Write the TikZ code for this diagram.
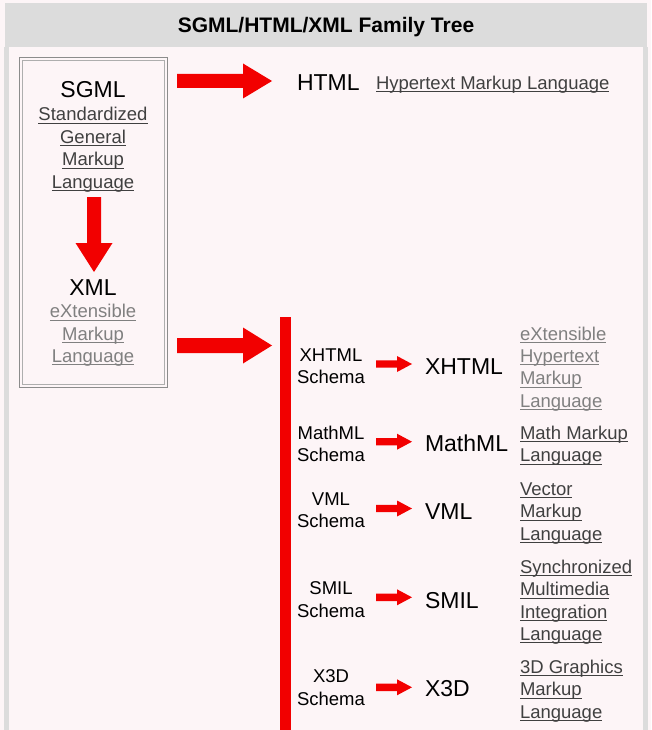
\documentclass[tikz,border=0pt]{standalone}
\usepackage{fontspec}
\setmainfont{Liberation Sans}
\usetikzlibrary{calc}
\definecolor{bg}{HTML}{FDF5F7}
\definecolor{bar}{HTML}{DCDCDC}
\definecolor{lnkd}{HTML}{404040}
\definecolor{lnkv}{HTML}{808080}
\definecolor{rd}{HTML}{F20000}
\definecolor{frm}{HTML}{8C8C8C}
\newcommand\lnk[1]{\setbox0=\hbox{#1}\rlap{\rule[-2.7pt]{\wd0}{0.9pt}}\box0}
\newcommand\st{\rule[-5pt]{0pt}{14pt}}
% horizontal block arrow: start, end, shaft half, head half, head length
\newcommand\harrow[5]{\fill[rd] ($(#1)+(0,-#3)$) -- ($(#2)+(-#5,-#3)$) -- ($(#2)+(-#5,-#4)$) -- (#2) -- ($(#2)+(-#5,#4)$) -- ($(#2)+(-#5,#3)$) -- ($(#1)+(0,#3)$) -- cycle;}
\begin{document}
\begin{tikzpicture}[x=1pt,y=-1pt,
  every node/.style={inner sep=0pt,outer sep=0pt},
  bigtxt/.style={font=\fontsize{23}{27}\selectfont},
  txt/.style={font=\fontsize{18.5}{22.4}\selectfont},
  defn/.style={txt,align=left,anchor=north west,text=lnkd},
  vdefn/.style={defn,text=lnkv},
  schema/.style={txt,align=center,anchor=north},
  langname/.style={bigtxt,anchor=base west}]
\useasboundingbox (0,0) rectangle (651,730);
\fill[bg] (0,0) rectangle (651,730);
\fill[bar] (5,3) rectangle (647,47);
\fill[bar] (4,47) rectangle (9,730);
\fill[bar] (643,47) rectangle (648,730);
\node[font=\fontsize{21}{25}\selectfont\bfseries,anchor=base] (title) at (326,33) {SGML/HTML/XML Family Tree};
% SGML box
\draw[frm,line width=1pt] (19,58) rectangle (167,387);
\draw[frm!70,line width=1pt] (22,61) rectangle (164,384);
\node[bigtxt,anchor=base] (sgml) at (93,98) {SGML};
\node[txt,align=center,anchor=north,text=lnkd] (sgmld) at (93,107.5) {\st\lnk{Standardized}\\\lnk{General}\\\lnk{Markup}\\\lnk{Language}};
\node[bigtxt,anchor=base] (xml) at (93,295) {XML};
\node[txt,align=center,anchor=north,text=lnkv] (xmld) at (93,304.3) {\st\lnk{eXtensible}\\\lnk{Markup}\\\lnk{Language}};
% down arrow
\coordinate (d1) at (94,197);
\coordinate (d2) at (94,272);
\fill[rd] ($(d1)+(-7,0)$) -- ($(d2)+(-7,-29)$) -- ($(d2)+(-18.5,-29)$) -- (d2) -- ($(d2)+(18.5,-29)$) -- ($(d2)+(7,-29)$) -- ($(d1)+(7,0)$) -- cycle;
% HTML
\node[langname] (html) at (297,90.5) {HTML};
\node[txt,anchor=base west,text=lnkd] (htmld) at (376,89.5) {\lnk{Hypertext Markup Language}};
\coordinate (a1) at (177,81);
\coordinate (a2) at (272,81);
\harrow{a1}{a2}{7}{17.5}{29}
\coordinate (b1) at (177,345.5);
\coordinate (b2) at (272,345.5);
\harrow{b1}{b2}{7.5}{18}{29}
% red bar
\fill[rd] (280,317) rectangle (291,730);
% schema rows
\node[schema] (s1) at (331,348.3) {\st XHTML\\Schema};
\node[schema] (s2) at (331,426) {\st MathML\\Schema};
\node[schema] (s3) at (331,492.7) {\st VML\\Schema};
\node[schema] (s4) at (331,582) {\st SMIL\\Schema};
\node[schema] (s5) at (331,670) {\st X3D\\Schema};
\node[langname] (n1) at (425,374) {XHTML};
\node[langname] (n2) at (425,451.7) {MathML};
\node[langname] (n3) at (425,519) {VML};
\node[langname] (n4) at (425,608.3) {SMIL};
\node[langname] (n5) at (425,696.7) {X3D};
\node[vdefn] (d1t) at (520,326.7) {\st\lnk{eXtensible}\\\lnk{Hypertext}\\\lnk{Markup}\\\lnk{Language}};
\node[defn] (d2t) at (520,426) {\st\lnk{Math Markup}\\\lnk{Language}};
\node[defn] (d3t) at (520,482.7) {\st\lnk{Vector}\\\lnk{Markup}\\\lnk{Language}};
\node[defn] (d4t) at (520,560) {\st\lnk{Synchronized}\\\lnk{Multimedia}\\\lnk{Integration}\\\lnk{Language}};
\node[defn] (d5t) at (520,660) {\st\lnk{3D Graphics}\\\lnk{Markup}\\\lnk{Language}};
% small arrows
\coordinate (p1) at (376,364);   \coordinate (q1) at (412,364);
\coordinate (p2) at (376,441.7); \coordinate (q2) at (412,441.7);
\coordinate (p3) at (376,508.5); \coordinate (q3) at (412,508.5);
\coordinate (p4) at (376,597.3); \coordinate (q4) at (412,597.3);
\coordinate (p5) at (376,687.3); \coordinate (q5) at (412,687.3);
\harrow{p1}{q1}{3.7}{8}{15}
\harrow{p2}{q2}{3.7}{8}{15}
\harrow{p3}{q3}{3.7}{8}{15}
\harrow{p4}{q4}{3.7}{8}{15}
\harrow{p5}{q5}{3.7}{8}{15}
\end{tikzpicture}
\end{document}
